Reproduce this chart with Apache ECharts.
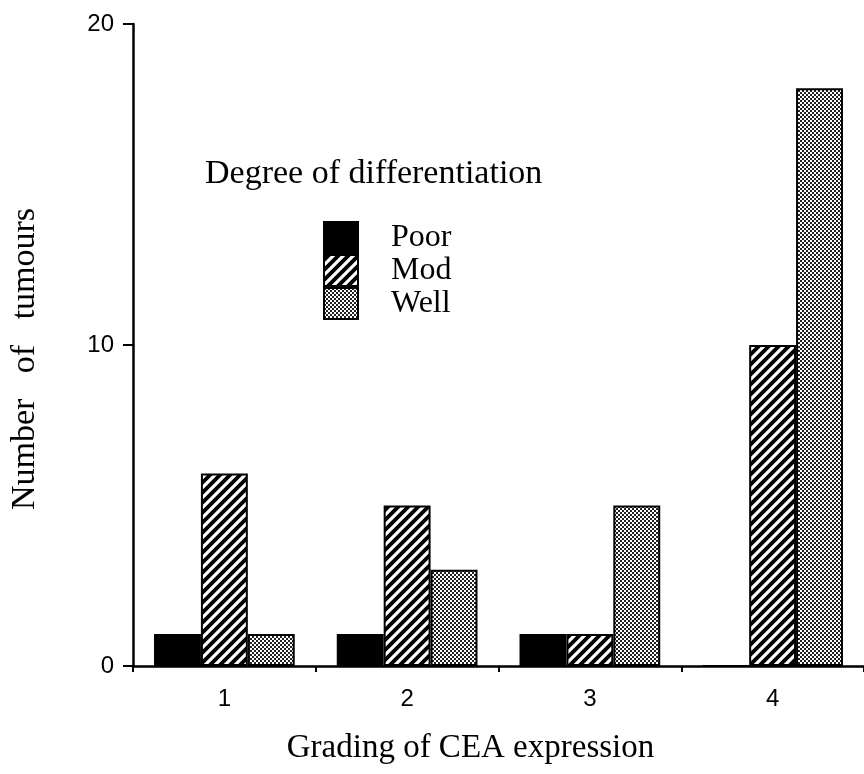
<!DOCTYPE html>
<html>
<head>
<meta charset="utf-8">
<script src="https://cdn.jsdelivr.net/npm/echarts@6/dist/echarts.min.js"></script>
<style>
  html, body { margin: 0; padding: 0; background: #fff; }
  #chart { width: 864px; height: 774px; }
</style>
</head>
<body>
<div id="chart"></div>
<script>
// CEA grading vs degree of differentiation
const categories = ["1", "2", "3", "4"];
const poorValues = [1, 1, 1, 0];
const modValues = [6, 5, 1, 10];
const wellValues = [1, 3, 5, 18];
const yTicks = [0, 10, 20];

const SERIF = "'Liberation Serif', 'DejaVu Serif', serif";
const SANS = "'Liberation Sans', Arial, sans-serif";

// black with white "/" stripes
function hatchPattern() {
  const s = 10;
  const c = document.createElement("canvas");
  c.width = s;
  c.height = s;
  const ctx = c.getContext("2d");
  ctx.fillStyle = "#000";
  ctx.fillRect(0, 0, s, s);
  ctx.strokeStyle = "#fff";
  ctx.lineWidth = 3.2;
  ctx.beginPath();
  ctx.moveTo(0, s); ctx.lineTo(s, 0);
  ctx.moveTo(-3, 3); ctx.lineTo(3, -3);
  ctx.moveTo(s - 3, s + 3); ctx.lineTo(s + 3, s - 3);
  ctx.stroke();
  return { image: c, repeat: "repeat" };
}

// fine checkerboard (grey look)
function checkPattern() {
  const c = document.createElement("canvas");
  c.width = 4;
  c.height = 4;
  const ctx = c.getContext("2d");
  ctx.fillStyle = "#fff";
  ctx.fillRect(0, 0, 4, 4);
  ctx.fillStyle = "#222";
  ctx.fillRect(0, 0, 2, 2);
  ctx.fillRect(2, 2, 2, 2);
  return { image: c, repeat: "repeat" };
}

const barBorder = { borderColor: "#000", borderWidth: 2 };

const option = {
  animation: false,
  backgroundColor: "#fff",
  title: {
    text: "Degree of differentiation",
    left: 205,
    top: 157,
    padding: 0,
    textStyle: { fontFamily: SERIF, fontSize: 34, fontWeight: "normal", color: "#000" },
  },
  legend: {
    orient: "vertical",
    left: 323,
    top: 221,
    padding: 0,
    itemWidth: 34,
    itemHeight: 31,
    itemGap: 0,
    icon: "rect",
    data: ["Poor", "Mod", "Well"],
    textStyle: {
      fontFamily: SERIF,
      fontSize: 32,
      lineHeight: 31,
      color: "#000",
      padding: [0, 0, 0, 28],
    },
  },
  grid: { left: 133, right: -2, top: 24, bottom: 108, containLabel: false },
  xAxis: {
    type: "category",
    data: categories,
    boundaryGap: true,
    name: "Grading of CEA expression",
    nameLocation: "middle",
    nameGap: 66,
    nameTextStyle: {
      fontFamily: SERIF,
      fontSize: 33,
      color: "#000",
      padding: [0, 56, 0, 0],
    },
    axisLine: { lineStyle: { color: "#000", width: 2.5 } },
    axisTick: { show: true, length: 6, lineStyle: { color: "#000", width: 2 } },
    axisLabel: { fontFamily: SANS, fontSize: 24, color: "#000", margin: 21 },
    splitLine: { show: false },
  },
  yAxis: {
    type: "value",
    min: yTicks[0],
    max: yTicks[yTicks.length - 1],
    interval: 10,
    name: "Number   of   tumours",
    nameLocation: "middle",
    nameGap: 91,
    nameTextStyle: {
      fontFamily: SERIF,
      fontSize: 34,
      color: "#000",
      padding: [0, 28, 0, 0],
    },
    axisLine: { show: true, lineStyle: { color: "#000", width: 2.5 } },
    axisTick: { show: true, length: 10, lineStyle: { color: "#000", width: 2 } },
    axisLabel: { fontFamily: SANS, fontSize: 24, color: "#000", margin: 19 },
    splitLine: { show: false },
  },
  series: [
    {
      name: "Poor",
      type: "bar",
      data: poorValues,
      barGap: "0%",
      barCategoryGap: "23%",
      itemStyle: { color: "#000", ...barBorder },
    },
    {
      name: "Mod",
      type: "bar",
      data: modValues,
      barGap: "0%",
      barCategoryGap: "23%",
      itemStyle: { color: hatchPattern(), ...barBorder },
    },
    {
      name: "Well",
      type: "bar",
      data: wellValues,
      barGap: "0%",
      barCategoryGap: "23%",
      itemStyle: { color: checkPattern(), ...barBorder },
    },
  ],
};

const chart = echarts.init(document.getElementById("chart"));
chart.setOption(option);
</script>
</body>
</html>
